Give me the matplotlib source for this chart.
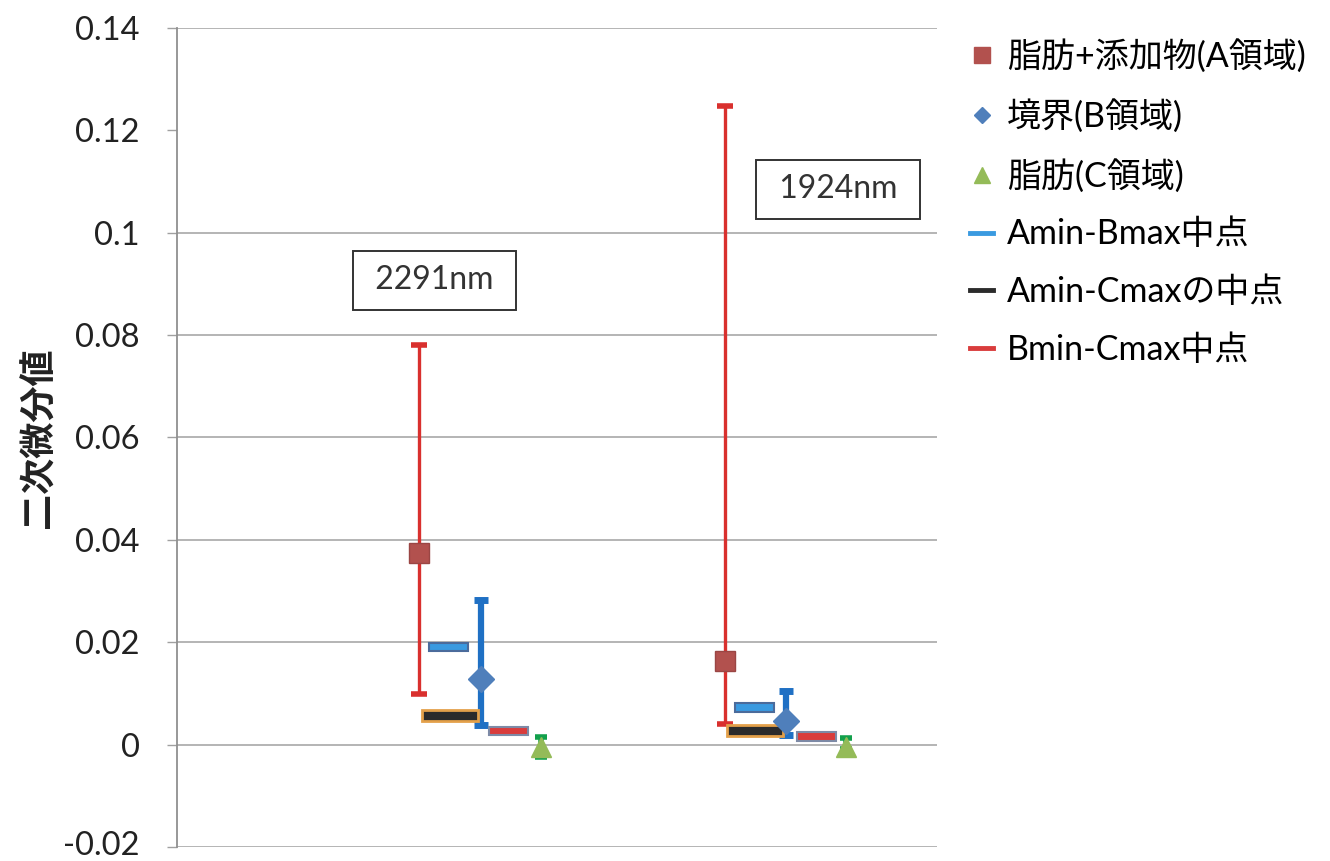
import numpy as np
import matplotlib.pyplot as plt
import matplotlib.transforms as mtransforms
from matplotlib.lines import Line2D

plt.rcParams['font.family'] = ['Lato', 'Noto Sans CJK JP', 'DejaVu Sans']

# wavelength groups and x positions of each region's point
wavelengths = ['2291nm', '1924nm']
x_a = [2.55, 5.77]
x_b = [3.20, 6.41]
x_c = [3.83, 7.04]

# A region (fat + additive): mean, max, min
a_mean = [0.0374, 0.0164]
a_max = [0.0781, 0.1248]
a_min = [0.0099, 0.0041]

# B region (boundary)
b_mean = [0.0129, 0.0047]
b_max = [0.0282, 0.0105]
b_min = [0.0039, 0.0019]

# C region (fat)
c_mean = [-0.0005, -0.0004]
c_max = [0.0014, 0.0013]
c_min = [-0.0024, -0.0008]

# midpoint markers: centre x of each bar
x_ab = [2.86, 6.08]
x_ac = [2.87, 6.08]
x_bc = [3.49, 6.73]

a_mean, a_max, a_min = map(np.array, (a_mean, a_max, a_min))
b_mean, b_max, b_min = map(np.array, (b_mean, b_max, b_min))
c_mean, c_max, c_min = map(np.array, (c_mean, c_max, c_min))

mid_ab = (a_min + b_max) / 2
mid_ac = (a_min + c_max) / 2
mid_bc = (b_min + c_max) / 2

fig = plt.figure(figsize=(13.3, 8.61), dpi=100)
ax = fig.add_axes([0.1331, 0.0163, 0.5714, 0.9512])

ax.set_xlim(0, 8)
ax.set_ylim(-0.02, 0.14)

# gridlines
for g in [-0.02, 0, 0.02, 0.04, 0.06, 0.08, 0.1, 0.14]:
    ax.axhline(g, color='#a8a8a8', lw=1.2, zorder=0)

# error bars (min to max)
ax.errorbar(x_a, a_mean, yerr=[a_mean - a_min, a_max - a_mean], fmt='none',
            ecolor='#d9302e', elinewidth=2.4, capsize=6, capthick=4, zorder=2)
ax.errorbar(x_b, b_mean, yerr=[b_mean - b_min, b_max - b_mean], fmt='none',
            ecolor='#1f70c4', elinewidth=4.5, capsize=5, capthick=5, zorder=2)
ax.errorbar(x_c, c_mean, yerr=[c_mean - c_min, c_max - c_mean], fmt='none',
            ecolor='#12a04c', elinewidth=4, capsize=4, capthick=4, zorder=2)

# midpoint bars
ax.barh(mid_ab, 0.41, left=np.array(x_ab) - 0.205, height=0.0017,
        color='#3a9ae0', edgecolor='#4b6b9b', linewidth=1.5, zorder=3)
ax.barh(mid_ac, 0.59, left=np.array(x_ac) - 0.295, height=0.0022,
        color='#2b2b2b', edgecolor='#e3a04a', linewidth=2, zorder=3)
ax.barh(mid_bc, 0.41, left=np.array(x_bc) - 0.205, height=0.0017,
        color='#d93c3c', edgecolor='#7d8aa6', linewidth=1.5, zorder=3)

# region means
ax.plot(x_a, a_mean, 's', color='#b2514e', ms=15, mec='#9a4644', zorder=4)
ax.plot(x_b, b_mean, 'D', color='#4f7fbb', ms=13, mec='#4f7fbb', zorder=4)
ax.plot(x_c, c_mean, '^', color='#94bb58', ms=14, mec='#94bb58', zorder=4)

# wavelength labels
box = dict(boxstyle='square,pad=0.45', fc='white', ec='#333333', lw=1.4)
ax.text(2.71, 0.0907, ' ' + wavelengths[0] + ' ', fontsize=23, color='#333333',
        ha='center', va='center', bbox=box)
ax.text(6.96, 0.1085, ' ' + wavelengths[1] + ' ', fontsize=23, color='#333333',
        ha='center', va='center', bbox=box)

ax.set_yticks([-0.02, 0, 0.02, 0.04, 0.06, 0.08, 0.1, 0.12, 0.14])
ax.set_yticklabels(['-0.02', '0', '0.02', '0.04', '0.06', '0.08', '0.1', '0.12', '0.14'])
ax.tick_params(axis='y', labelsize=23.5, colors='#a0a0a0', labelcolor='#222222',
               length=7, width=1, pad=20)
# nudge the bottom label up so it stays inside the figure
lowest = ax.get_yticklabels()[0]
lowest.set_transform(lowest.get_transform() +
                     mtransforms.ScaledTranslation(0, 4 / 100, fig.dpi_scale_trans))
ax.set_xticks([])
for side in ['top', 'right', 'bottom']:
    ax.spines[side].set_visible(False)
ax.spines['left'].set_color('#909090')
ax.spines['left'].set_linewidth(1.3)

ax.set_ylabel('二次微分値', fontsize=26, fontweight='bold', color='#222222',
              family=['Noto Sans CJK JP'])
ax.yaxis.set_label_coords(-0.157, 0.5)

handles = [
    Line2D([], [], ls='none', marker='s', color='#b2514e', ms=12),
    Line2D([], [], ls='none', marker='D', color='#4f7fbb', ms=8),
    Line2D([], [], ls='none', marker='^', color='#94bb58', ms=12),
    Line2D([], [], color='#3a9ae0', lw=3.5),
    Line2D([], [], color='#2b2b2b', lw=3.5),
    Line2D([], [], color='#d93c3c', lw=3.5),
]
labels = ['脂肪+添加物(A領域)', '境界(B領域)', '脂肪(C領域)',
          'Amin-Bmax中点', 'Amin-Cmaxの中点', 'Bmin-Cmax中点']
fig.legend(handles, labels, loc='upper left', bbox_to_anchor=(0.706, 0.99),
           frameon=False, handlelength=0.7, handletextpad=0.4,
           labelspacing=0.76, prop={'family': ['Lato', 'Noto Sans CJK JP'], 'size': 24.5})

fig.savefig('out.png', dpi=100, facecolor='white')
